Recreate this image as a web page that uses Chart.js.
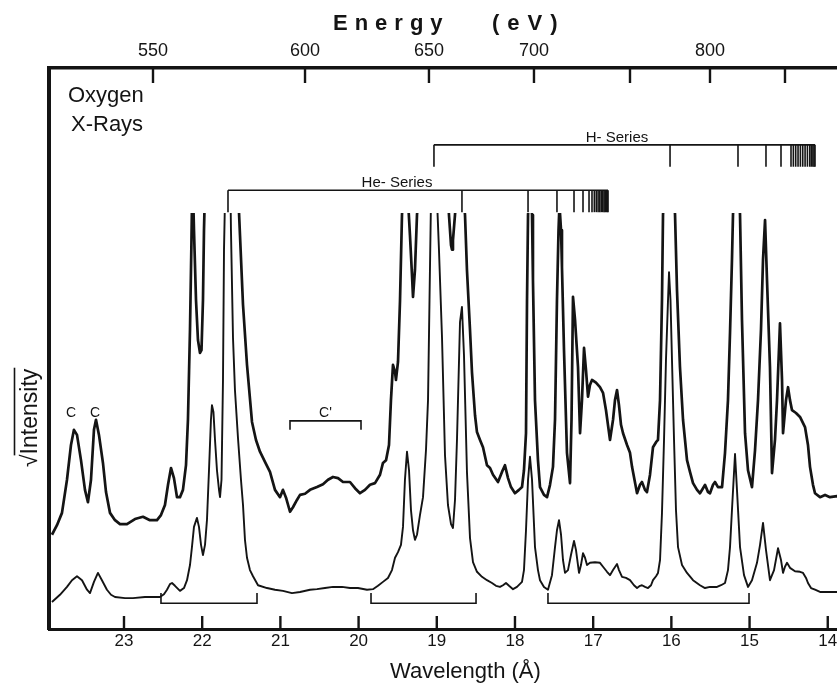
<!DOCTYPE html>
<html><head><meta charset="utf-8">
<script src="https://cdn.jsdelivr.net/npm/chart.js@4.4.1/dist/chart.umd.min.js"></script>
<style>
html,body{margin:0;padding:0;background:#fff;overflow:hidden;width:837px;height:683px;}
canvas{display:block;}
</style></head><body>
<canvas id="c" width="894" height="683"></canvas>
<script>
// ---------- data ----------
const wavelengthTicks = [23, 22, 21, 20, 19, 18, 17, 16, 15, 14];
const energyLabels = ['550', '600', '650', '700', '', '800', ''];
const energyTickWavelengths = [22.629, 20.685, 19.100, 17.757, 16.529, 15.506, 14.547];

// upper (thick) spectrum: wavelength (Å) and sqrt-intensity (arb. units, 0-100 = full frame)
const upperWl = [23.921,23.857,23.793,23.729,23.678,23.640,23.601,23.550,23.499,23.461,
23.422,23.384,23.358,23.320,23.269,23.230,23.179,23.115,23.051,22.962,
22.860,22.757,22.668,22.578,22.527,22.476,22.437,22.399,22.361,22.322,
22.284,22.246,22.207,22.182,22.156,22.137,22.124,22.105,22.079,22.054,
22.028,22.009,21.990,21.977,21.952,21.875,21.772,21.670,21.594,21.555,
21.529,21.478,21.427,21.363,21.312,21.261,21.197,21.133,21.069,21.005,
20.967,20.928,20.877,20.839,20.788,20.749,20.685,20.621,20.532,20.455,
20.391,20.327,20.263,20.199,20.110,20.046,19.982,19.918,19.854,19.790,
19.726,19.688,19.649,19.611,19.586,19.560,19.534,19.522,19.496,19.470,
19.445,19.407,19.368,19.343,19.317,19.304,19.279,19.253,19.151,19.048,
18.959,18.882,18.844,18.818,18.805,18.793,18.767,18.703,18.639,18.614,
18.575,18.550,18.511,18.486,18.447,18.409,18.358,18.319,18.281,18.217,
18.166,18.128,18.089,18.051,18.000,17.949,17.910,17.885,17.859,17.846,
17.833,17.808,17.782,17.770,17.744,17.706,17.680,17.629,17.590,17.552,
17.514,17.488,17.463,17.443,17.431,17.411,17.399,17.373,17.335,17.296,
17.277,17.258,17.232,17.194,17.168,17.143,17.117,17.092,17.066,17.041,
17.015,16.964,16.913,16.874,16.836,16.785,16.746,16.721,16.695,16.670,
16.644,16.618,16.567,16.529,16.503,16.439,16.401,16.376,16.337,16.312,
16.273,16.235,16.196,16.171,16.145,16.120,16.107,16.043,15.992,15.953,
15.928,15.890,15.851,15.800,15.762,15.723,15.672,15.634,15.595,15.570,
15.531,15.506,15.467,15.442,15.404,15.352,15.314,15.276,15.250,15.225,
15.212,15.173,15.135,15.122,15.097,15.058,15.020,14.969,14.930,14.892,
14.854,14.828,14.802,14.777,14.739,14.713,14.675,14.649,14.611,14.585,
14.572,14.534,14.508,14.483,14.457,14.406,14.355,14.291,14.253,14.227,
14.189,14.163,14.099,14.035,13.971,13.882,13.715,13.268];
const upperInt = [16.8,18.5,20.7,26.6,32.8,35.5,34.6,30.1,24.8,22.6,
26.6,35.5,37.3,34.6,29.6,24.4,20.7,19.4,18.7,18.7,
19.6,20.0,19.4,19.4,20.3,22.1,25.7,28.7,26.9,23.5,
23.5,24.8,29.2,37.3,53.3,69.3,81.8,71.1,58.6,51.5,
49.2,49.7,58.6,71.1,85.4,100,95,110,100,83.6,
74.2,57.8,47.1,36.9,33.7,31.6,29.8,28.0,24.8,23.5,
24.8,23.4,20.9,21.7,23.0,23.9,24.1,24.8,25.3,25.8,
26.6,27.1,26.9,26.2,26.2,25.1,24.2,24.8,25.7,26.0,
27.5,29.6,30.1,32.8,40.8,47.1,45.8,44.4,47.6,58.6,
73.8,83.6,76.5,70.2,63.1,59.2,64.0,73.8,90.7,97.9,
94.3,83.6,73.8,68.4,67.6,69.3,73.8,85.4,73.8,64.0,
53.3,45.8,38.1,35.1,33.7,32.4,29.2,28.7,27.5,26.2,
28.0,29.2,26.9,25.3,24.2,24.8,25.3,28.3,34.9,58.6,
73.8,80.0,73.8,62.2,40.8,30.1,25.3,23.9,23.5,25.7,
28.9,37.3,58.6,71.1,75.6,71.1,64.5,49.7,31.4,26.0,
37.3,59.2,55.1,46.7,34.9,40.8,50.1,46.2,41.4,43.5,
44.4,43.9,43.1,42.1,39.0,33.7,37.3,40.8,42.6,39.9,
36.4,34.9,32.8,31.4,28.9,24.2,25.7,26.2,24.8,24.4,
27.5,32.4,33.3,33.7,40.8,58.6,73.8,90.7,85.4,73.8,
60.4,46.7,37.3,30.1,28.0,26.0,24.8,24.2,25.1,25.7,
24.4,24.2,25.7,26.2,25.3,25.3,31.4,40.8,52.8,65.8,
73.8,85.4,78.3,73.8,55.1,34.9,28.3,25.3,31.9,40.8,
53.3,65.8,72.9,62.2,46.7,27.8,33.7,40.8,54.5,44.4,
34.9,40.8,43.1,40.8,39.0,38.5,37.8,36.0,32.8,28.9,
25.7,24.2,23.5,23.9,23.5,23.7,23.5,23.5];

// lower (thin) spectrum
const lowerWl = [23.921,23.819,23.729,23.665,23.601,23.537,23.473,23.435,23.384,23.333,
23.282,23.218,23.166,23.115,22.987,22.885,22.732,22.540,22.489,22.450,
22.412,22.386,22.348,22.284,22.233,22.194,22.156,22.131,22.105,22.067,
22.041,22.015,21.990,21.964,21.939,21.913,21.888,21.875,21.856,21.836,
21.811,21.785,21.772,21.753,21.734,21.721,21.696,21.670,21.645,21.632,
21.606,21.581,21.542,21.504,21.478,21.453,21.427,21.389,21.350,21.286,
21.171,21.069,20.967,20.852,20.749,20.621,20.532,20.430,20.327,20.212,
20.110,20.008,19.892,19.816,19.752,19.688,19.624,19.573,19.534,19.496,
19.458,19.432,19.407,19.381,19.355,19.330,19.304,19.279,19.253,19.215,
19.176,19.138,19.112,19.093,19.074,19.036,18.997,18.972,18.933,18.895,
18.857,18.818,18.793,18.767,18.741,18.703,18.678,18.652,18.614,18.575,
18.537,18.486,18.422,18.358,18.294,18.243,18.192,18.153,18.115,18.076,
18.025,17.974,17.910,17.885,17.859,17.833,17.808,17.782,17.744,17.706,
17.680,17.629,17.578,17.527,17.488,17.463,17.437,17.411,17.386,17.360,
17.322,17.284,17.245,17.220,17.181,17.156,17.130,17.104,17.079,17.041,
16.977,16.913,16.874,16.823,16.785,16.746,16.695,16.670,16.631,16.580,
16.529,16.478,16.439,16.401,16.376,16.337,16.299,16.260,16.235,16.196,
16.171,16.145,16.120,16.094,16.069,16.043,16.030,16.011,15.992,15.966,
15.941,15.915,15.864,15.800,15.723,15.634,15.570,15.506,15.416,15.365,
15.314,15.276,15.250,15.225,15.186,15.161,15.122,15.071,15.020,14.969,
14.905,14.866,14.828,14.790,14.739,14.687,14.636,14.598,14.572,14.547,
14.521,14.483,14.419,14.355,14.316,14.278,14.253,14.214,14.163,14.099,
14.010,13.882,13.268];
const lowerInt = [4.8,6.1,7.5,8.7,9.4,8.7,7.0,6.4,8.4,10.0,
8.7,7.0,6.1,5.7,5.5,5.5,5.7,5.7,6.2,7.0,
8.0,8.2,7.7,6.8,7.3,8.7,11.4,14.6,18.2,19.8,
18.2,15.0,13.2,15.0,19.4,28.3,37.3,39.9,38.7,33.7,
28.3,24.8,23.5,26.6,44.4,67.6,85.4,97.9,85.4,71.1,
51.9,42.6,34.0,26.6,22.1,15.9,12.7,10.5,9.4,7.8,
7.3,7.0,6.8,6.4,6.6,7.0,7.1,7.3,7.5,7.5,
7.3,7.3,7.0,7.1,7.7,8.4,9.1,10.5,12.7,13.7,
15.0,18.2,26.6,31.6,28.3,21.2,17.6,15.9,16.8,20.3,
23.5,31.9,40.8,58.6,76.5,101.4,76.5,67.6,51.9,31.0,
22.1,18.7,18.0,23.0,34.0,54.7,57.4,48.8,28.0,16.2,
11.9,10.2,9.3,8.7,8.2,7.7,7.5,7.8,8.2,7.7,
7.1,7.5,8.4,10.5,17.6,26.6,30.7,26.6,14.6,10.5,
8.7,7.5,7.0,9.6,14.6,17.6,19.4,16.8,12.3,10.0,
10.5,13.2,15.7,14.1,10.0,11.4,13.5,12.7,11.4,11.8,
11.9,11.8,11.1,10.2,9.6,10.5,11.6,10.5,9.3,9.1,
8.7,7.8,7.3,7.7,7.8,7.5,7.3,7.8,8.7,9.4,
10.0,12.3,20.7,33.7,47.9,58.6,63.6,58.6,47.9,33.7,
21.2,14.6,11.4,10.0,8.7,7.8,7.3,7.5,7.5,7.8,
8.2,10.5,14.6,21.2,31.2,24.8,14.6,9.6,7.5,8.7,
11.8,15.0,18.9,14.1,8.7,10.5,14.4,12.3,10.0,11.1,
11.8,10.9,10.3,10.2,10.0,9.1,8.2,7.3,7.0,6.6,
6.6,6.6,6.6];

// line-series combs (wavelengths of marked lines)
const hSeriesLines = [19.036,16.017,15.148,14.790,14.598,14.470,14.440,14.410,14.380,14.350,14.320,14.290,14.260,14.230,14.210,14.190,14.175,14.163];
const heSeriesLines = [21.670,18.678,17.833,17.463,17.245,17.130,17.053,17.015,16.985,16.960,16.937,16.915,16.895,16.877,16.860,16.845,16.832,16.820,16.810];
const hSeriesLevel = [86.3, 82.4];   // bar height, foot of ticks
const heSeriesLevel = [78.2, 74.3];
const bottomBrackets = [[22.527, 21.299], [19.841, 18.498], [17.578, 15.007]];
const bottomBracketLevel = [4.6, 6.4];
const cPrimeBracket = [20.877, 19.969];
const cPrimeLevel = [37.1, 35.5];
const cLabelWl = [23.678, 23.371];
const labelLevel = 37.8;

// ---------- drawing ----------
const INK = '#141414';
const FONT = "'Liberation Sans', Arial, Helvetica, sans-serif";
const WL_MIN = 13.268, WL_MAX = 23.959;

const decorations = {
  id: 'decorations',
  afterDatasetsDraw(chart) {
    const {ctx, chartArea: a, scales} = chart;
    const xs = scales.x, xt = scales.x2, ys = scales.y;
    const X = v => xs.getPixelForValue(v), Y = v => ys.getPixelForValue(v);
    const seg = (x1, y1, x2, y2) => { ctx.beginPath(); ctx.moveTo(x1, y1); ctx.lineTo(x2, y2); ctx.stroke(); };
    ctx.save();
    ctx.strokeStyle = INK; ctx.fillStyle = INK; ctx.lineCap = 'butt';

    // inward tick marks
    ctx.lineWidth = 2.4;
    xs.ticks.forEach(t => { const p = X(t.value); seg(p, a.bottom, p, a.bottom - 13); });
    xt.ticks.forEach(t => { const p = xt.getPixelForValue(t.value); seg(p, a.top, p, a.top + 15); });

    // series combs
    ctx.lineWidth = 1.6;
    const comb = (lines, lv) => {
      seg(X(lines[0]), Y(lv[0]), X(lines[lines.length - 1]), Y(lv[0]));
      lines.forEach(l => seg(X(l), Y(lv[0]), X(l), Y(lv[1])));
    };
    comb(hSeriesLines, hSeriesLevel);
    comb(heSeriesLines, heSeriesLevel);

    // brackets
    ctx.lineWidth = 1.6;
    const bracket = (w1, w2, lvLine, lvEnd) => {
      ctx.beginPath();
      ctx.moveTo(X(w1), Y(lvEnd)); ctx.lineTo(X(w1), Y(lvLine));
      ctx.lineTo(X(w2), Y(lvLine)); ctx.lineTo(X(w2), Y(lvEnd));
      ctx.stroke();
    };
    bottomBrackets.forEach(b => bracket(b[0], b[1], bottomBracketLevel[0], bottomBracketLevel[1]));
    bracket(cPrimeBracket[0], cPrimeBracket[1], cPrimeLevel[0], cPrimeLevel[1]);

    // labels
    ctx.textBaseline = 'alphabetic';
    ctx.textAlign = 'center';
    ctx.font = '15px ' + FONT;
    ctx.fillText('H- Series', X(16.695), Y(86.8));
    ctx.fillText('He- Series', X(19.509), Y(78.8));
    ctx.font = '14px ' + FONT;
    cLabelWl.forEach(w => ctx.fillText('C', X(w), Y(labelLevel)));
    ctx.fillText("C'", X((cPrimeBracket[0] + cPrimeBracket[1]) / 2), Y(labelLevel));

    ctx.textAlign = 'left';
    ctx.font = '22px ' + FONT;
    ctx.fillText('Oxygen', a.left + 19, a.top + 34);
    ctx.fillText('X-Rays', a.left + 22, a.top + 63);

    // axis titles
    ctx.font = 'bold 22px ' + FONT;
    ctx.letterSpacing = '7px';
    ctx.fillText('Energy', 333, 30);
    ctx.letterSpacing = '8px';
    ctx.fillText('(eV)', 492, 30);
    ctx.letterSpacing = '0px';
    ctx.font = '22px ' + FONT;
    ctx.fillText('Wavelength (\u00C5)', 390, 678);

    // y title: sqrt(Intensity)
    ctx.save();
    ctx.translate(37, 467);
    ctx.rotate(-Math.PI / 2);
    ctx.font = '23px ' + FONT;
    const w1 = ctx.measureText('\u221A').width;
    const w2 = ctx.measureText('Intensity').width;
    ctx.fillText('\u221A', 0, 0);
    ctx.fillText('Intensity', w1, 0);
    ctx.lineWidth = 1.6;
    seg(w1 - 1, -22.5, w1 + w2 + 1, -22.5);
    ctx.restore();

    ctx.restore();
  }
};

const pts = (w, v) => w.map((x, i) => ({x, y: v[i]}));
const clipTop = {left: 0, top: -145, right: 0, bottom: 0};

new Chart(document.getElementById('c'), {
  type: 'line',
  data: {
    datasets: [
      {label: 'upper', data: pts(upperWl, upperInt), borderColor: INK, borderWidth: 2.7,
       pointRadius: 0, tension: 0, borderJoinStyle: 'round', clip: clipTop},
      {label: 'lower', data: pts(lowerWl, lowerInt), borderColor: INK, borderWidth: 1.9,
       pointRadius: 0, tension: 0, borderJoinStyle: 'round', clip: clipTop}
    ]
  },
  options: {
    responsive: false, animation: false, devicePixelRatio: 1, events: [],
    layout: {padding: {left: 0, right: 9, top: 0, bottom: 0}},
    plugins: {legend: {display: false}, tooltip: {enabled: false}, title: {display: false}},
    scales: {
      x: {
        type: 'linear', position: 'bottom', reverse: true, min: WL_MIN, max: WL_MAX,
        afterBuildTicks: s => { s.ticks = wavelengthTicks.map(v => ({value: v})); },
        afterFit: s => { s.height = 54; },
        grid: {display: false, drawTicks: false},
        border: {display: true, width: 3, color: INK},
        ticks: {autoSkip: false, maxRotation: 0, padding: 2, color: INK,
                font: {family: FONT, size: 17}, callback: v => String(v)}
      },
      x2: {
        type: 'linear', position: 'top', reverse: true, min: WL_MIN, max: WL_MAX,
        afterBuildTicks: s => { s.ticks = energyTickWavelengths.map(v => ({value: v})); },
        afterFit: s => { s.height = 68; },
        grid: {display: false, drawTicks: false},
        border: {display: true, width: 3.5, color: INK},
        ticks: {autoSkip: false, maxRotation: 0, padding: 6, color: INK,
                font: {family: FONT, size: 18}, callback: (v, i) => energyLabels[i]}
      },
      y: {
        min: 0, max: 100, position: 'left',
        afterFit: s => { s.width = 49; },
        grid: {display: false, drawTicks: false},
        border: {display: true, width: 4, color: INK},
        ticks: {display: false}
      }
    }
  },
  plugins: [decorations]
});
</script>
</body></html>
